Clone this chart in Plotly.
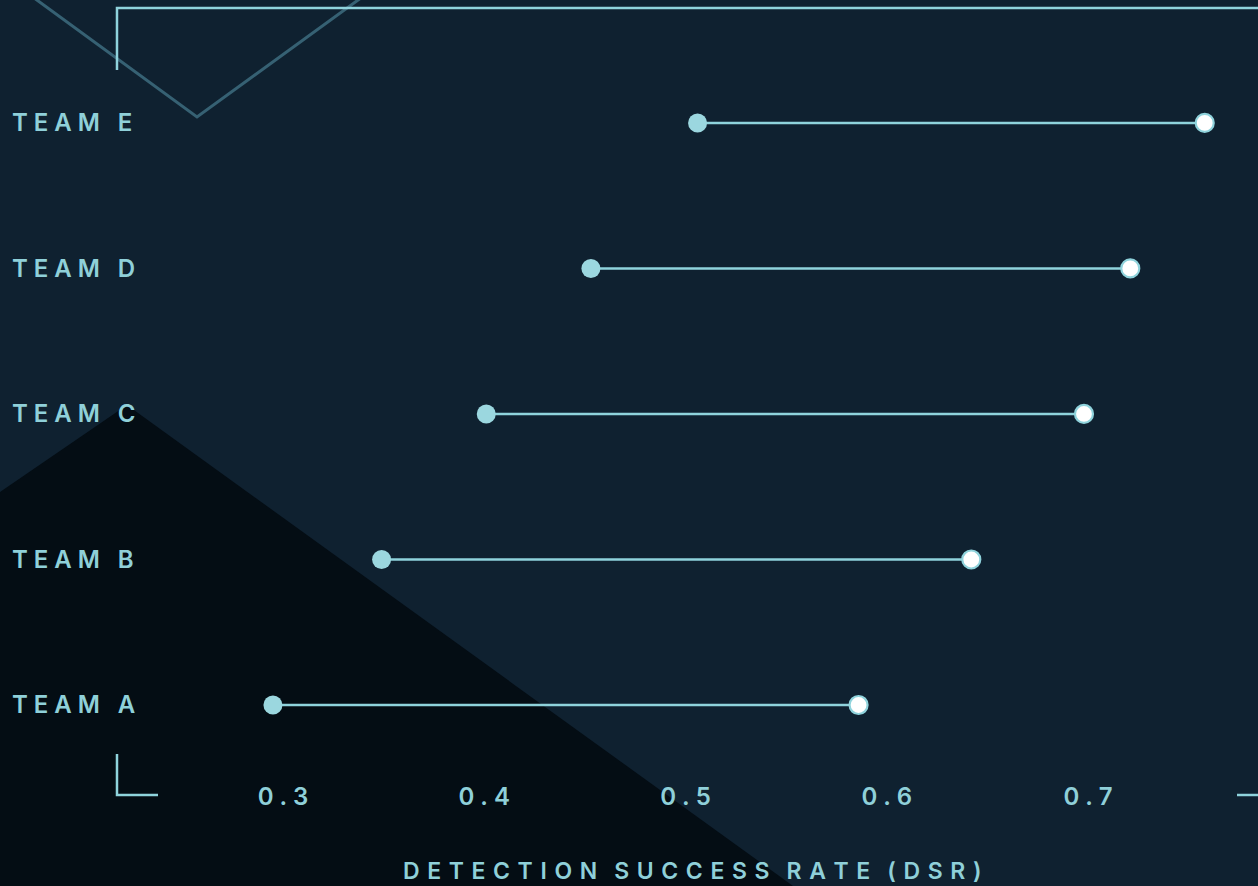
import plotly.graph_objects as go

# ---- data ----
teams = ["Team A", "Team B", "Team C", "Team D", "Team E"]
dsr_before = [0.295, 0.349, 0.401, 0.453, 0.506]
dsr_after = [0.586, 0.642, 0.698, 0.721, 0.758]
tick_vals = [0.3, 0.4, 0.5, 0.6, 0.7]
tick_text = ["0.3", "0.4", "0.5", "0.6", "0.7"]
axis_title = "DETECTION SUCCESS RATE (DSR)"

# ---- style ----
W, H = 1258, 886
BG = "#0f2130"
DARK = "#040d14"
CYAN = "#8fd3dc"
DOT = "#9bd7df"
TEXT = "#8fd0d9"
MB = 106  # bottom margin
PH = H - MB  # plot height
SEP = "\u2009\u200a"
SEP_TITLE = "\u2009\u200a\u200a"


def spaced(s, sep=SEP, word_gap=None):
    if word_gap is None:
        word_gap = sep + "\u00a0" + sep
    out = []
    for i, ch in enumerate(s):
        if ch == " ":
            out.append(word_gap)
        else:
            out.append(ch)
            if i < len(s) - 1 and s[i + 1] != " ":
                out.append(sep)
    return "".join(out)


def px(x):
    return x / W


def py(y):
    return 1 - y / PH


fig = go.Figure()

# connecting lines
for t, a, b in zip(teams, dsr_before, dsr_after):
    fig.add_trace(go.Scatter(
        x=[a, b], y=[t, t], mode="lines",
        line=dict(color=CYAN, width=2.6), hoverinfo="skip", showlegend=False))

fig.add_trace(go.Scatter(
    x=dsr_before, y=teams, mode="markers", name="Before",
    marker=dict(size=19, color=DOT, line=dict(width=0)), showlegend=False))
fig.add_trace(go.Scatter(
    x=dsr_after, y=teams, mode="markers", name="After",
    marker=dict(size=18, color="#ffffff", line=dict(width=2.2, color=CYAN)),
    showlegend=False))

shapes = []
# dark triangle
tri = [(0, 492), (127, 405), (793, 886), (0, 886)]
path = "M " + " L ".join(f"{px(x):.5f},{py(y):.5f}" for x, y in tri) + " Z"
shapes.append(dict(type="path", xref="paper", yref="paper", path=path,
                   fillcolor=DARK, line=dict(width=0), layer="below"))
# faint V line
vpts = [(30, -5), (197, 117), (365, -5)]
vpath = "M " + " L ".join(f"{px(x):.5f},{py(y):.5f}" for x, y in vpts)
shapes.append(dict(type="path", xref="paper", yref="paper", path=vpath,
                   line=dict(color="rgba(80,140,160,0.6)", width=3), layer="below"))
# brackets
for pts in ([(117, 70), (117, 8), (1262, 8)],
            [(117, 754), (117, 795), (158, 795)],
            [(1237, 795), (1262, 795)]):
    p = "M " + " L ".join(f"{px(x):.5f},{py(y):.5f}" for x, y in pts)
    shapes.append(dict(type="path", xref="paper", yref="paper", path=p,
                       line=dict(color=CYAN, width=2.5), layer="below"))

annotations = []
for t in teams:
    annotations.append(dict(
        x=px(10), xref="paper", xanchor="left", y=t, yref="y", yanchor="middle",
        text=spaced(t.upper()), showarrow=False,
        font=dict(family="Inter", size=24, color=TEXT, weight=600)))

title_text = ("\u200b" + "\u2009\u2009\u200a"
              + spaced(axis_title, SEP_TITLE, SEP_TITLE + SEP_TITLE + "\u200a"))

fig.update_layout(
    width=W, height=H,
    margin=dict(l=0, r=0, t=0, b=MB),
    paper_bgcolor=BG, plot_bgcolor="rgba(0,0,0,0)",
    shapes=shapes, annotations=annotations,
    xaxis=dict(
        domain=[117 / W, 1],
        range=[0.21752, 0.78447],
        tickvals=tick_vals, ticktext=[spaced(s) for s in tick_text],
        tickfont=dict(family="Inter", size=24, color=TEXT, weight=600),
        showgrid=False, zeroline=False, showline=False, ticks="",
        title=dict(text=title_text, standoff=52,
                   font=dict(family="Inter", size=23, color=TEXT, weight=600)),
    ),
    yaxis=dict(
        type="category", categoryorder="array", categoryarray=teams,
        range=[-0.5155, 4.845],
        showticklabels=False, showgrid=False, zeroline=False, showline=False,
    ),
)

fig.write_html(
    "out.html",
    config={"displayModeBar": False},
    post_script="document.body.style.margin='0';document.body.style.overflow='hidden';",
)
